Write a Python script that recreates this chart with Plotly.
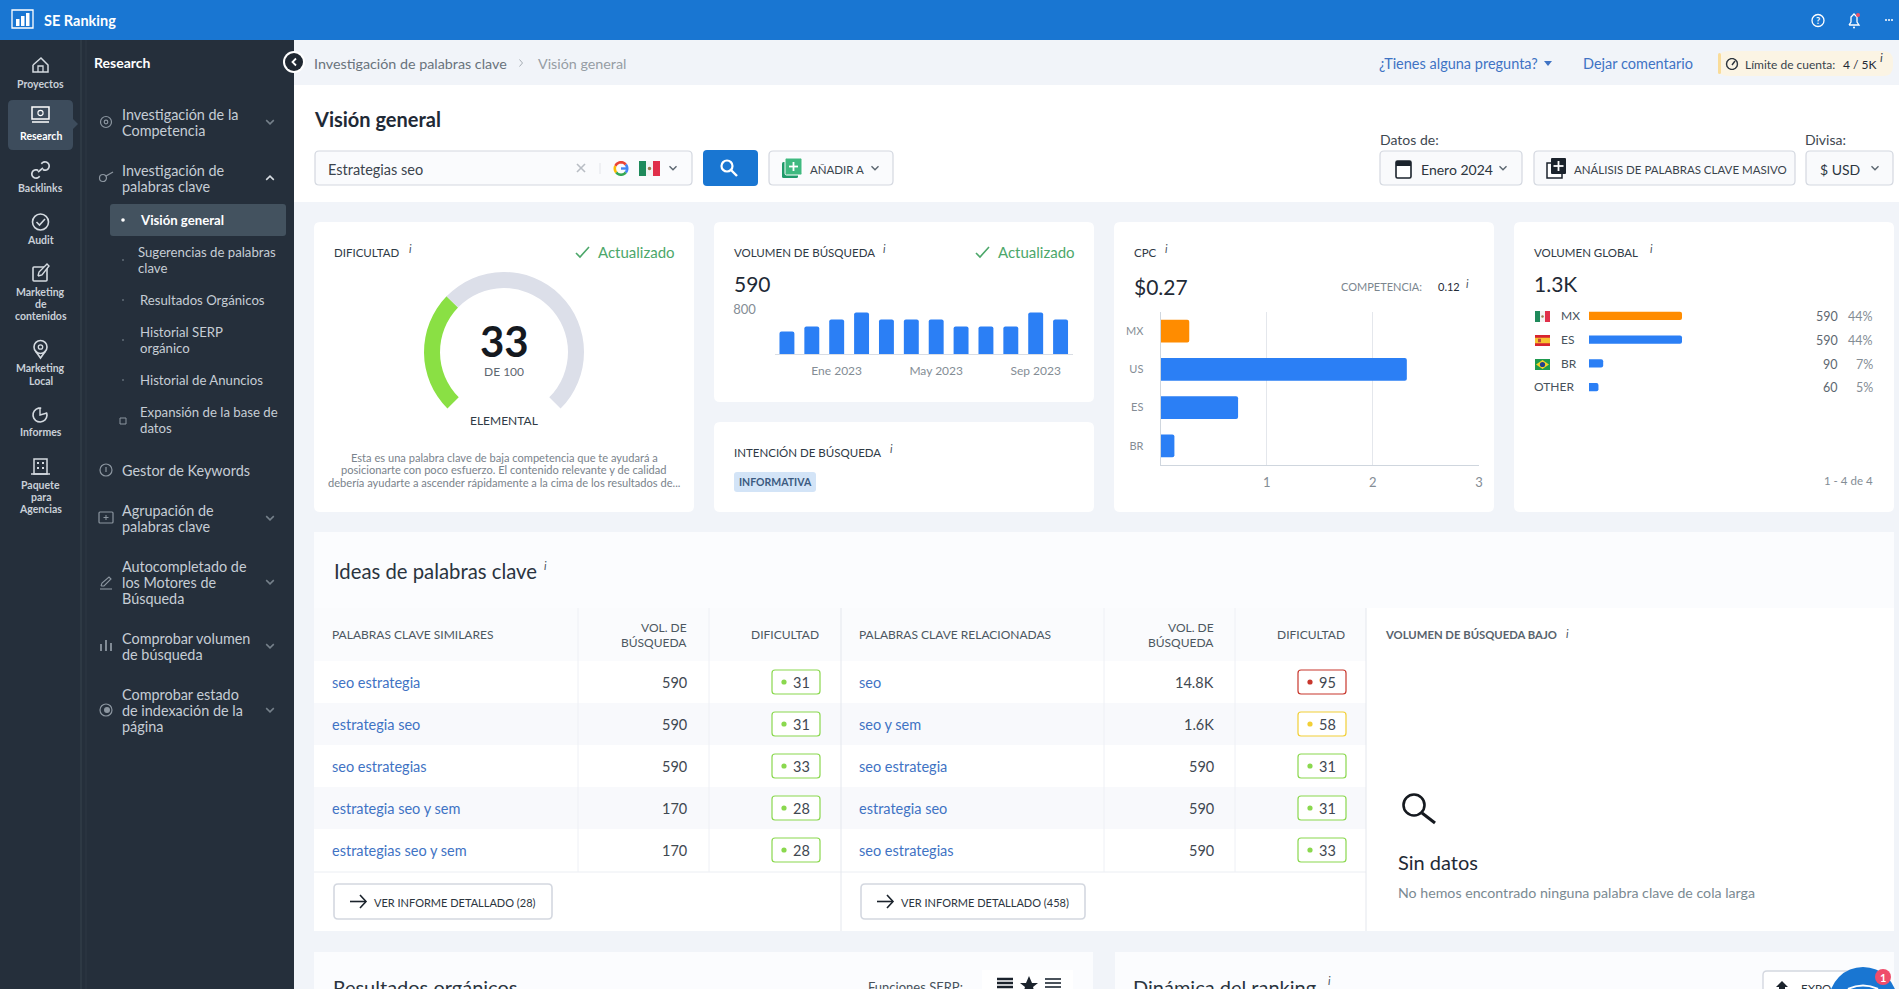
import math
import plotly.graph_objects as go

W, H = 1899, 989
FONT = 'Lato'

# ---- data ----
months = ['Nov 2022', 'Dic 2022', 'Ene 2023', 'Feb 2023', 'Mar 2023', 'Abr 2023',
          'May 2023', 'Jun 2023', 'Jul 2023', 'Ago 2023', 'Sep 2023', 'Oct 2023']
month_volume = [375, 460, 575, 690, 575, 575, 575, 460, 460, 460, 690, 575]
month_ticks = ['Ene 2023', 'May 2023', 'Sep 2023']

cpc_countries = ['MX', 'US', 'ES', 'BR']
cpc_values = [0.27, 2.32, 0.73, 0.13]

global_countries = ['MX', 'ES', 'BR', 'OTHER']
global_volume = [590, 590, 90, 60]
global_share = ['44%', '44%', '7%', '5%']

difficulty = 33
difficulty_max = 100

similar_keywords = ['seo estrategia', 'estrategia seo', 'seo estrategias', 'estrategia seo y sem', 'estrategias seo y sem']
similar_volume = ['590', '590', '590', '170', '170']
similar_difficulty = [31, 31, 33, 28, 28]

related_keywords = ['seo', 'seo y sem', 'seo estrategia', 'estrategia seo', 'seo estrategias']
related_volume = ['14.8K', '1.6K', '590', '590', '590']
related_difficulty = [95, 58, 31, 31, 33]

BG = '#f1f4f9'
DARK = '#252f3b'
BLUE = '#2b7ff5'
TOPBLUE = '#1976d2'
ORANGE = '#ff8c00'
GREEN = '#8ae044'
INK = '#1f2a36'
LABEL = '#2f3a45'
GREY = '#7b868f'
LINK = '#3f73c4'
MENU = '#c6cdd5'

shapes = []
notes = []


# ---- small drawing helpers, everything in screen pixels ----
def rect(x0, y0, x1, y1, fill, line=None, r=0, lw=1):
    if r:
        p = (f'M{x0+r},{y0} L{x1-r},{y0} Q{x1},{y0} {x1},{y0+r} L{x1},{y1-r} Q{x1},{y1} {x1-r},{y1} '
             f'L{x0+r},{y1} Q{x0},{y1} {x0},{y1-r} L{x0},{y0+r} Q{x0},{y0} {x0+r},{y0} Z')
    else:
        p = f'M{x0},{y0} L{x1},{y0} L{x1},{y1} L{x0},{y1} Z'
    shapes.append(dict(type='path', xref='x', yref='y', path=p, fillcolor=fill, layer='below',
                       line=dict(color=line or 'rgba(0,0,0,0)', width=lw if line else 0)))


def poly(pts, color, w=1.5, fill=None, close=False):
    p = 'M' + ' L'.join(f'{a:.2f},{b:.2f}' for a, b in pts) + (' Z' if close else '')
    shapes.append(dict(type='path', xref='x', yref='y', path=p, layer='below',
                       fillcolor=fill or 'rgba(0,0,0,0)', line=dict(color=color, width=w)))


def solid(pts, fill):
    p = 'M' + ' L'.join(f'{a:.2f},{b:.2f}' for a, b in pts) + ' Z'
    shapes.append(dict(type='path', xref='x', yref='y', path=p, layer='below', fillcolor=fill,
                       line=dict(color='rgba(0,0,0,0)', width=0)))


def circle(cx, cy, r, line=None, fill=None, w=1.5):
    shapes.append(dict(type='circle', xref='x', yref='y', x0=cx-r, x1=cx+r, y0=cy-r, y1=cy+r, layer='below',
                       fillcolor=fill or 'rgba(0,0,0,0)',
                       line=dict(color=line or 'rgba(0,0,0,0)', width=w if line else 0)))


def arc(cx, cy, r, a0, a1, color, w=1.5):
    n = 14
    pts = []
    for i in range(n + 1):
        a = math.radians(a0 + (a1 - a0) * i / n)
        pts.append((cx + r * math.cos(a), cy + r * math.sin(a)))
    poly(pts, color, w)


def chev(x, y, color='#5b6670', s=3.5, up=False, w=1.4):
    d = -s/2 if up else s/2
    poly([(x - s, y - d), (x, y + d), (x + s, y - d)], color, w)


def txt(x, y, s, size=12, color=INK, anchor='left', bold=False):
    if bold:
        s = f'<b>{s}</b>'
    if anchor == 'left':
        x -= 1.2
    notes.append(dict(x=x, y=y, xref='x', yref='y', text=s, showarrow=False, xanchor=anchor, yanchor='middle',
                      borderpad=0, font=dict(family=FONT, size=size, color=color)))


def info(x, y, color='#47525c', size=11):
    txt(x, y, '<i>i</i>', size, color, 'center')


def check(x, y, color='#4ca76a'):
    poly([(x, y + 1), (x + 4, y + 5), (x + 13, y - 5)], color, 1.6)


def mx_flag(x0, y0, x1, y1):
    t = (x1 - x0) / 3
    rect(x0, y0, x0 + t, y1, '#1f8a5b')
    rect(x0 + t, y0, x0 + 2*t, y1, '#f4f4f4')
    rect(x0 + 2*t, y0, x1, y1, '#e0304a')
    circle((x0 + x1) / 2, (y0 + y1) / 2, t / 4, fill='#9a7b4f')


def es_flag(x0, y0, x1, y1):
    t = (y1 - y0) / 4
    rect(x0, y0, x1, y1, '#d8232f')
    rect(x0, y0 + t, x1, y1 - t, '#f7c331')
    rect(x0 + 3, y0 + t + 1, x0 + 6, y1 - t - 1, '#c0483a')


def br_flag(x0, y0, x1, y1):
    cx, cy = (x0 + x1) / 2, (y0 + y1) / 2
    rect(x0, y0, x1, y1, '#1f9a4f')
    solid([(x0 + 1, cy), (cx, y0 + 1), (x1 - 1, cy), (cx, y1 - 1)], '#f5d328')
    circle(cx, cy, 2.6, fill='#23408e')


# ---- page blocks ----
rect(0, 0, W, H, BG)
rect(294, 85, W, 202, '#ffffff')
rect(0, 0, W, 40, TOPBLUE)
rect(0, 40, 294, H, DARK)
poly([(81, 40), (81, H)], '#38444f', 1)
poly([(86, 40), (86, H)], '#2e3945', 1)

for box in [(314, 222, 694, 512), (714, 222, 1094, 402), (714, 422, 1094, 512),
            (1114, 222, 1494, 512), (1514, 222, 1894, 512)]:
    rect(*box, '#ffffff', r=6)

# ---- top bar ----
rect(12, 10, 33, 28, 'rgba(0,0,0,0)', '#ffffff', lw=1.3)
for bx, top in zip([16, 21, 26], [19, 16, 13]):
    rect(bx, top, bx + 3.5, 26, '#ffffff')
txt(44, 20, 'SE Ranking', 14.5, '#ffffff', bold=True)
circle(1818, 20.5, 6, '#ffffff', w=1.3)
txt(1818, 20.5, '?', 9, '#ffffff', 'center', True)
poly([(1849, 25), (1851, 22), (1851, 17), (1854, 14), (1857, 17), (1857, 22), (1859, 25), (1849, 25)], '#ffffff', 1.3)
circle(1854, 27.5, 1, fill='#ffffff')
circle(1858, 15, 2, fill='#ef5064')
for dx in [1886, 1889, 1892]:
    circle(dx, 20, 1, fill='#ffffff')

# ---- breadcrumbs ----
txt(314, 63, 'Investigación de palabras clave', 14.3, '#69737c')
poly([(519.5, 59.5), (522.5, 63), (519.5, 66.5)], '#a6adb4', 1)
txt(538, 63, 'Visión general', 14.3, '#969da4')
txt(1379, 63, '¿Tienes alguna pregunta?', 14.5, LINK)
solid([(1544, 61), (1552, 61), (1548, 66)], LINK)
txt(1583, 63, 'Dejar comentario', 14.5, LINK)
rect(1718, 51, 1893, 76, '#fbf4e4', r=10)
rect(1718, 53, 1721, 74, '#f9dc9a', r=1.5)
arc(1732, 64, 5.5, 0, 360, '#2b333c', 1.4)
poly([(1732, 65), (1735, 61)], '#2b333c', 1.4)
txt(1745, 64, 'Límite de cuenta:', 12, '#39434c')
txt(1843, 64, '4 / 5K', 12, INK)
info(1881, 57, '#39434c', 12)

# ---- heading row ----
txt(314, 119, 'Visión general', 20, INK, bold=True)
rect(315, 151, 692, 185, '#fafbfd', '#d4d8e0', r=4, lw=1.2)
txt(328, 169, 'Estrategias seo', 14.5, '#3b444d')
poly([(577, 164), (585, 172)], '#b8bdc4', 1.6)
poly([(585, 164), (577, 172)], '#b8bdc4', 1.6)
poly([(600, 163), (600, 174)], '#e3e5ea', 1)
arc(621, 168.5, 6.2, -40, 40, '#4285f4', 2.6)
poly([(621, 168.5), (627, 168.5)], '#4285f4', 2.4)
arc(621, 168.5, 6.2, 205, 320, '#ea4335', 2.6)
arc(621, 168.5, 6.2, 140, 205, '#fbbc05', 2.6)
arc(621, 168.5, 6.2, 40, 140, '#34a853', 2.6)
mx_flag(639, 161, 660, 176)
chev(673, 168)
rect(703, 150, 758, 186, TOPBLUE, r=4)
circle(727, 166, 5.5, '#ffffff', w=2.2)
poly([(731, 170), (737, 176)], '#ffffff', 2.4)
rect(769, 151, 893, 185, '#fafbfd', '#d4d8e0', r=4, lw=1.2)
rect(782, 162, 798, 178, '#1f9a6a', r=1.5)
rect(785, 158, 802, 175, '#3fb980', '#ffffff', r=1.5)
poly([(793.5, 162), (793.5, 171)], '#ffffff', 1.8)
poly([(789, 166.5), (798, 166.5)], '#ffffff', 1.8)
txt(810, 169, 'AÑADIR A', 11.5, '#39434c')
chev(875, 168)

txt(1380, 139, 'Datos de:', 14, '#3e4750')
txt(1805, 139, 'Divisa:', 14, '#3e4750')
rect(1380, 151, 1522, 185, '#f9fafc', '#d4d8e0', r=4, lw=1.2)
rect(1396, 161, 1411, 178, '#ffffff', '#1b232c', r=1.5, lw=1.6)
rect(1396, 161, 1411, 166, '#1b232c')
txt(1421, 169, 'Enero 2024', 14, '#2c353e')
chev(1503, 168)
rect(1534, 151, 1795, 185, '#f9fafc', '#d4d8e0', r=4, lw=1.2)
rect(1547, 163, 1562, 178, '#ffffff', '#1b232c', lw=1.5)
rect(1551, 158, 1566, 174, '#1b232c', r=1)
poly([(1558.5, 161), (1558.5, 171)], '#ffffff', 1.8)
poly([(1553.5, 166), (1563.5, 166)], '#ffffff', 1.8)
txt(1574, 169, 'ANÁLISIS DE PALABRAS CLAVE MASIVO', 11.5, '#39434c')
rect(1806, 151, 1893, 185, '#f9fafc', '#d4d8e0', r=4, lw=1.2)
txt(1820, 169, '$ USD', 14, '#2c353e')
chev(1875, 168)

# ---- icon rail ----
rect(8, 100, 73, 150, '#3d4c5c', r=5)
solid([(73, 119), (78, 124), (73, 129)], '#3d4c5c')
RAIL = '#d4dae0'
rail_labels = [(84, 'Proyectos'), (136, 'Research'), (188, 'Backlinks'), (240, 'Audit'),
               (292, 'Marketing'), (304, 'de'), (316, 'contenidos'), (368, 'Marketing'), (380.5, 'Local'),
               (432, 'Informes'), (484.5, 'Paquete'), (496.5, 'para'), (508.5, 'Agencias')]
for ly, name in rail_labels:
    txt(40.5, ly, name, 10.5, '#ffffff' if name == 'Research' else '#c9d0d8', 'center', True)
poly([(33, 65), (41, 58), (48, 65), (48, 72), (33, 72), (33, 65)], RAIL, 1.5)
poly([(38, 72), (38, 66), (43, 66), (43, 72)], RAIL, 1.3)
rect(32, 107, 49, 119, 'rgba(0,0,0,0)', '#ffffff', lw=1.5)
poly([(32, 122), (49, 122)], '#ffffff', 1.5)
circle(40.5, 113, 2.6, '#ffffff', w=1.1)
arc(36, 174, 4.2, 30, 300, RAIL, 1.7)
arc(45, 166, 4.2, 210, 480, RAIL, 1.7)
poly([(38, 172), (43, 168)], RAIL, 1.7)
circle(40.5, 222, 8, RAIL, w=1.6)
poly([(36.5, 222), (39.5, 225), (45, 219)], RAIL, 1.6)
rect(33, 267, 47, 281, 'rgba(0,0,0,0)', RAIL, r=1, lw=1.6)
poly([(38, 276), (39, 272), (47, 264), (49, 266), (42, 275), (38, 276)], RAIL, 1.4, fill=DARK)
circle(40.5, 347, 6.5, RAIL, w=1.6)
poly([(35.5, 351), (40.5, 358), (45.5, 351)], RAIL, 1.6)
circle(40.5, 347, 2.2, RAIL, w=1.3)
arc(40, 415, 7, -20, 280, RAIL, 1.6)
poly([(40, 408), (40, 415), (47, 413)], RAIL, 1.4)
rect(34, 459, 47, 474, 'rgba(0,0,0,0)', RAIL, lw=1.5)
poly([(31, 474), (50, 474)], RAIL, 1.5)
for bx, by in [(38, 463), (43, 463), (38, 468), (43, 468)]:
    rect(bx - 1, by - 1, bx + 1, by + 1, RAIL)

# ---- research menu ----
txt(94, 62, 'Research', 14, '#ffffff', bold=True)
menu_main = [
    (114, 'Investigación de la'), (130, 'Competencia'),
    (170, 'Investigación de'), (186, 'palabras clave'),
    (470, 'Gestor de Keywords'),
    (510, 'Agrupación de'), (526, 'palabras clave'),
    (566, 'Autocompletado de'), (582, 'los Motores de'), (598, 'Búsqueda'),
    (638, 'Comprobar volumen'), (654, 'de búsqueda'),
    (694, 'Comprobar estado'), (710, 'de indexación de la'), (726, 'página'),
]
menu_sub = [
    (138, 252, 'Sugerencias de palabras'), (138, 268, 'clave'),
    (140, 300, 'Resultados Orgánicos'),
    (140, 332, 'Historial SERP'), (140, 348, 'orgánico'),
    (140, 380, 'Historial de Anuncios'),
    (140, 412, 'Expansión de la base de'), (140, 428, 'datos'),
]
for my_, line in menu_main:
    txt(122, my_, line, 14.4, MENU)
for mx_, my_, line in menu_sub:
    txt(mx_, my_, line, 13.2, MENU)
rect(110, 204, 286, 236, '#43525f', r=3)
circle(123, 220, 1.8, fill='#ffffff')
txt(140, 220, 'Visión general', 13.2, '#ffffff', bold=True)
for dy_ in [260, 300, 340, 380]:
    circle(123, dy_, 0.8, fill='#8c96a0')
for cy_ in [122, 518, 582, 646, 710]:
    chev(270, cy_, '#76818b', 3.8, w=1.5)
chev(270, 178, '#d8dde2', 3.8, up=True, w=1.5)
MI = '#8c96a0'
circle(106, 122, 5.5, MI, w=1.2)
circle(106, 122, 1.8, MI, w=1.2)
circle(103, 178, 3.5, MI, w=1.2)
poly([(106, 176), (113, 172)], MI, 1.2)
rect(120, 418, 126, 424, 'rgba(0,0,0,0)', MI, lw=1)
circle(106, 470, 6, MI, w=1.2)
poly([(106, 467), (106, 472)], MI, 1.2)
rect(99, 512, 113, 523, 'rgba(0,0,0,0)', MI, r=1, lw=1.2)
poly([(106, 515), (106, 520)], MI, 1)
poly([(103.5, 517.5), (108.5, 517.5)], MI, 1)
poly([(100, 589), (112, 589)], MI, 1.1)
poly([(101, 586), (102, 583), (109, 577), (111, 579), (104, 586), (101, 586)], MI, 1.1)
for bx, top in zip([101, 106, 111], [644, 640, 643]):
    poly([(bx, 651), (bx, top)], MI, 1.8)
circle(106, 710, 6, MI, w=1.2)
circle(107, 710, 3, fill=MI)
circle(294, 62, 11, fill='#ffffff')
circle(294, 62, 9, fill='#1f2731')
poly([(296, 58.5), (292.5, 62), (296, 65.5)], '#ffffff', 1.8)

# ---- card headers ----
txt(334, 252, 'DIFICULTAD', 11.5, LABEL)
info(410, 248)
check(576, 252)
txt(598, 252, 'Actualizado', 15, '#4ca76a')
txt(734, 252, 'VOLUMEN DE BÚSQUEDA', 11.5, LABEL)
info(884, 248)
check(976, 252)
txt(998, 252, 'Actualizado', 15, '#4ca76a')
txt(734, 283, '590', 21, INK)
txt(734, 452, 'INTENCIÓN DE BÚSQUEDA', 11.5, LABEL)
info(891, 448)
rect(734, 472, 816, 492, '#d3e4f7', r=3)
txt(775, 482, 'INFORMATIVA', 10.5, '#3b5a80', 'center', True)
txt(1134, 252, 'CPC', 11.5, LABEL)
info(1166, 248)
txt(1134, 286, '$0.27', 21, INK)
txt(1341, 286, 'COMPETENCIA:', 11, GREY)
txt(1438, 286, '0.12', 11, INK)
info(1467, 283)
txt(1534, 252, 'VOLUMEN GLOBAL', 11.5, LABEL)
info(1651, 248)
txt(1534, 283, '1.3K', 21, INK)

# gauge text
txt(504, 340.5, str(difficulty), 42, '#15191f', 'center', True)
txt(504, 371, f'DE {difficulty_max}', 12, '#5d6770', 'center')
txt(504, 420, 'ELEMENTAL', 12, '#2f3a45', 'center')
desc = ['Esta es una palabra clave de baja competencia que te ayudará a',
        'posicionarte con poco esfuerzo. El contenido relevante y de calidad',
        'debería ayudarte a ascender rápidamente a la cima de los resultados de...']
for dy_, line in zip([457, 469.5, 482], desc):
    txt(504, dy_, line, 11.1, '#7a838c', 'center')

# global volume rows
row_y = [316, 340, 364, 387]
mx_flag(1535, 311, 1550, 322)
es_flag(1535, 335, 1550, 346)
br_flag(1535, 359, 1550, 370)
for yy, name, vol, share in zip(row_y, global_countries, global_volume, global_share):
    txt(1534 if name == 'OTHER' else 1561, yy - 1, name, 12, '#47525c')
    txt(1839, yy, str(vol), 12.5, '#5d6770', 'right')
    txt(1874, yy, share, 12.5, '#848d95', 'right')
txt(1874, 480, '1 - 4 de 4', 11.5, '#848d95', 'right')

# ---- keyword ideas ----
rect(314, 532, 1894, 931, '#fbfcfe')
rect(314, 608, 1894, 931, '#ffffff')
rect(314, 608, 1366, 661, '#fafbfd')
txt(334, 571, 'Ideas de palabras clave', 20.3, '#2a343e')
info(545, 565, '#47525c', 11)
ROW_H = 42
ROW_TOP = 661
for i in range(5):
    if i % 2:
        rect(314, ROW_TOP + i*ROW_H, 1366, ROW_TOP + (i + 1)*ROW_H, '#f8f9fc')
poly([(314, 872), (1366, 872)], '#ebeef3', 1)
for vx in [578, 709, 1104, 1235]:
    poly([(vx, 608), (vx, 872)], '#eef0f5', 1)
for vx in [841, 1366]:
    poly([(vx, 608), (vx, 931)], '#e4e7ed', 1)


def badge_color(v):
    if v >= 80:
        return '#c8372d'
    if v >= 50:
        return '#f2cf36'
    return '#8ad84e'


def keyword_table(x_kw, x_vol, x0_badge, x1_badge, head, words, vols, diffs):
    txt(x_kw, 634, head, 12, '#4c5761')
    txt(x_vol, 627, 'VOL. DE', 12, '#4c5761', 'right')
    txt(x_vol, 642, 'BÚSQUEDA', 12, '#4c5761', 'right')
    txt(x1_badge, 634, 'DIFICULTAD', 12, '#4c5761', 'right')
    for i, (word, vol, d) in enumerate(zip(words, vols, diffs)):
        yy = ROW_TOP + ROW_H*i + ROW_H/2
        txt(x_kw, yy, word, 14.5, LINK)
        txt(x_vol, yy, vol, 14.5, '#3f4851', 'right')
        c = badge_color(d)
        rect(x0_badge, yy - 12, x1_badge, yy + 12, '#ffffff', c, r=3, lw=1.2)
        circle(x0_badge + 12, yy, 2.6, fill=c)
        txt(x1_badge - 9, yy, str(d), 14.5, '#3f4851', 'right')


keyword_table(332, 688, 772, 820, 'PALABRAS CLAVE SIMILARES', similar_keywords, similar_volume, similar_difficulty)
keyword_table(859, 1215, 1298, 1346, 'PALABRAS CLAVE RELACIONADAS', related_keywords, related_volume, related_difficulty)

for x0, x1, xt, label in [(334, 552, 374, 'VER INFORME DETALLADO (28)'), (861, 1085, 901, 'VER INFORME DETALLADO (458)')]:
    rect(x0, 884, x1, 919, '#ffffff', '#d4d8e0', r=4, lw=1.6)
    poly([(x0 + 16, 901.5), (x0 + 32, 901.5)], '#1b232c', 1.6)
    poly([(x0 + 26, 895), (x0 + 32, 901.5), (x0 + 26, 908)], '#1b232c', 1.6)
    txt(xt, 902, label, 11, '#2c353e')

txt(1385, 634, 'VOLUMEN DE BÚSQUEDA BAJO', 11.3, '#58636d', bold=True)
info(1567, 633)
circle(1414, 805, 10.5, '#15191f', w=2.6)
poly([(1422, 813), (1435, 823)], '#15191f', 3)
txt(1398, 862, 'Sin datos', 20, '#1f2a36')
txt(1398, 892, 'No hemos encontrado ninguna palabra clave de cola larga', 14.2, '#7b8a92')

# ---- cut-off cards at the bottom ----
rect(314, 952, 1093, H + 20, '#fbfcfe')
rect(1115, 952, 1894, H + 20, '#fbfcfe')
txt(333, 987, 'Resultados orgánicos', 20, '#2a343e')
txt(868, 987, 'Funciones SERP:', 13, '#47525c')
rect(982, 970, 1073, H + 20, '#ffffff')
for y_ in [979, 983, 987]:
    poly([(997, y_), (1013, y_)], '#1b232c', 2.5)
    poly([(1045, y_), (1061, y_)], '#4a525b', 2)
solid([(1029, 976), (1032, 983), (1038, 983), (1033, 987), (1035, 994), (1029, 990), (1023, 994), (1025, 987), (1020, 983), (1026, 983)], '#1b232c')
txt(1133, 987, 'Dinámica del ranking', 20, '#2a343e')
info(1329, 980)
rect(1763, 971, 1880, H + 20, '#ffffff', '#d4d8e0', r=4, lw=1.4)
solid([(1782, 981), (1788, 987), (1785, 987), (1785, H), (1779, H), (1779, 987), (1776, 987)], '#1b232c')
txt(1801, 988, 'EXPO', 11.5, '#2c353e')
circle(1863, 1001, 34, fill='#1976d2')
shapes.append(dict(type='path', xref='x', yref='y', layer='below', path='M1848,989 Q1863,982 1878,989',
                   line=dict(color='#ffffff', width=2)))
circle(1883, 977, 8, fill='#ef4d6b')
txt(1883, 977, '1', 11, '#ffffff', 'center', True)

# ---- figure ----
fig = go.Figure()

fig.add_trace(go.Scatter(x=[0], y=[0], mode='none', hoverinfo='skip', showlegend=False))

fig.add_trace(go.Pie(
    values=[difficulty, difficulty_max - difficulty, difficulty_max / 3],
    marker=dict(colors=[GREEN, '#dcdfe9', 'rgba(0,0,0,0)'], line=dict(width=0)),
    hole=0.8, rotation=225, direction='clockwise', sort=False, textinfo='none', hoverinfo='skip',
    showlegend=False,
    domain=dict(x=[424/W, 584/W], y=[1 - 432/H, 1 - 272/H]),
))

fig.add_trace(go.Bar(x=months, y=month_volume, xaxis='x2', yaxis='y2', marker_color=BLUE, showlegend=False))

fig.add_trace(go.Bar(y=cpc_countries, x=cpc_values, orientation='h', xaxis='x3', yaxis='y3', showlegend=False,
                     marker_color=[ORANGE if c == 'MX' else BLUE for c in cpc_countries]))

fig.add_trace(go.Bar(y=global_countries, x=global_volume, orientation='h', xaxis='x4', yaxis='y4', showlegend=False,
                     width=0.34, marker_color=[ORANGE if c == 'MX' else BLUE for c in global_countries]))

clear = 'rgba(0,0,0,0)'
fig.update_layout(
    template='none',
    width=W, height=H, margin=dict(l=0, r=0, t=0, b=0, pad=0), autosize=False,
    paper_bgcolor=BG, plot_bgcolor=clear, font=dict(family=FONT),
    bargap=0.4, barcornerradius=2, showlegend=False,
    shapes=shapes, annotations=notes,
    xaxis=dict(range=[0, W], domain=[0, 1], visible=False, fixedrange=True, automargin=False),
    yaxis=dict(range=[H, 0], domain=[0, 1], visible=False, fixedrange=True, automargin=False),
    xaxis2=dict(domain=[774.5/W, 1073/W], anchor='y2', type='category', categoryorder='array', categoryarray=months,
                tickmode='array', tickvals=month_ticks, ticktext=month_ticks, showgrid=False, showline=False,
                zeroline=False, automargin=False,
                ticks='outside', ticklen=6, tickcolor=clear, tickfont=dict(size=12, color='#848d95', family=FONT)),
    yaxis2=dict(domain=[1 - 354/H, 1 - 306/H], anchor='x2', range=[0, 800], tickmode='array', tickvals=[0, 800],
                ticktext=['', '800'], gridcolor='#e4e7ee', zeroline=True, zerolinecolor='#d9dde4', automargin=False,
                ticklabelshift=3,
                ticks='outside', ticklen=15, tickcolor=clear, tickfont=dict(size=13, color='#848d95', family=FONT)),
    xaxis3=dict(domain=[1160.6/W, 1479/W], anchor='y3', range=[0, 3], tickmode='array', tickvals=[1, 2, 3],
                gridcolor='#e4e7ec', showgrid=True, showline=True, linecolor='#cfd6de', zeroline=False, automargin=False,
                ticks='outside', ticklen=5, tickcolor=clear, tickfont=dict(size=13, color='#848d95', family=FONT)),
    yaxis3=dict(domain=[1 - 465/H, 1 - 312/H], anchor='x3', type='category', categoryorder='array', automargin=False,
                categoryarray=cpc_countries, range=[3.5, -0.5], showline=True, linecolor='#cfd6de', showgrid=False,
                ticks='outside', ticklen=14, tickcolor=clear, tickfont=dict(size=11, color='#848d95', family=FONT)),
    xaxis4=dict(domain=[1589/W, 1775/W], anchor='y4', range=[0, 1180], visible=False, automargin=False),
    yaxis4=dict(domain=[1 - 399/H, 1 - 304/H], anchor='x4', type='category', categoryorder='array', automargin=False,
                categoryarray=global_countries, range=[3.5, -0.5], visible=False),
)

fig.write_html('out.html', config=dict(displayModeBar=False),
               post_script="document.body.style.margin='0';document.body.style.overflow='hidden';")
